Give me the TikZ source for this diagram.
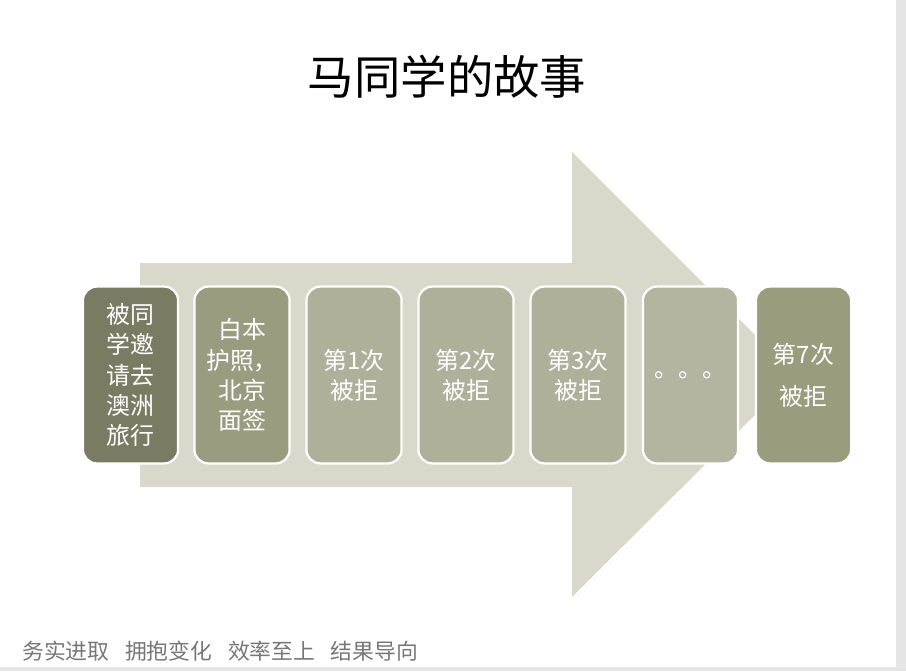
\documentclass[tikz,border=0pt]{standalone}
\usepackage{fontspec}
\setmainfont{Noto Sans CJK SC}
\definecolor{arrowgray}{HTML}{D8D9CB}
\definecolor{stepdark}{HTML}{797B62}
\definecolor{stepmid}{HTML}{9A9C80}
\definecolor{steplight}{HTML}{AEB099}
\definecolor{stepdots}{HTML}{B3B5A0}
\definecolor{steplast}{HTML}{9A9C7E}
\definecolor{footgray}{HTML}{777777}
\tikzset{
  stepbox/.style={draw=white,line width=1.6pt,rounded corners=0.35cm,
    minimum width=2.38cm,minimum height=4.42cm,inner sep=0pt,
    text=white,align=center,font=\fontsize{17}{21.5}\selectfont},
}
\begin{document}
\begin{tikzpicture}[x=0.025cm,y=-0.025cm]
\useasboundingbox (0,0) rectangle (906,671);
\fill[white] (0,0) rectangle (906,671);
% page edge
\fill[gray!20] (896,0) rectangle (906,671);
\fill[gray!20] (0,667) rectangle (906,671);
% title
\node (title) at (447,77) {\fontsize{33}{36}\selectfont 马同学的故事};
% big arrow
\fill[arrowgray] (140,263) -- (572,263) -- (572,152) -- (795,375) -- (572,597) -- (572,487) -- (140,487) -- cycle;
% steps
\node[stepbox,fill=stepdark] (invite) at (130.5,375) {被同\\学邀\\请去\\澳洲\\旅行};
\node[stepbox,fill=stepmid] (visa) at (242,375) {白本\\护照，\\北京\\面签};
\node[stepbox,fill=steplight] (first) at (354,375) {第1次\\被拒};
\node[stepbox,fill=steplight] (second) at (466,375) {第2次\\被拒};
\node[stepbox,fill=steplight] (third) at (578,375) {第3次\\被拒};
\node[stepbox,fill=stepdots] (dots) at (690.5,375) {。。。};
\node[stepbox,fill=steplast,font=\fontsize{17}{30}\selectfont] (seventh) at (803.5,375) {第7次\\被拒};
% footer
\node[anchor=west,text=footgray,inner sep=0pt] (motto) at (22,651) {\fontsize{15.5}{18}\selectfont 务实进取\hspace{0.72em}拥抱变化\hspace{0.72em}效率至上\hspace{0.72em}结果导向};
\end{tikzpicture}
\end{document}
